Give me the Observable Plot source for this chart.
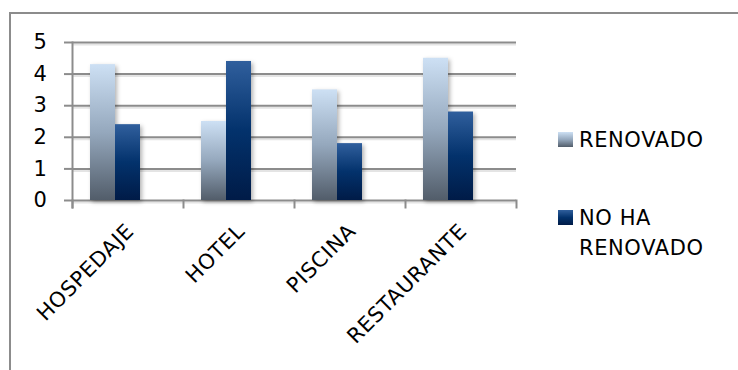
<!DOCTYPE html>
<html><head><meta charset="utf-8">
<script src="https://cdn.jsdelivr.net/npm/d3@7"></script>
<script src="https://cdn.jsdelivr.net/npm/@observablehq/plot@0.6"></script>
<style>
body{margin:0;background:#fff}
#wrap{position:relative;width:738px;height:370px;overflow:hidden;font-family:"DejaVu Sans";background:#fff}
#wrap svg{position:absolute;left:0;top:0}
.border{position:absolute;left:9px;top:12px;width:900px;height:600px;border-left:2px solid #8c8c8c;border-top:2px solid #8c8c8c}
.sw{position:absolute;width:15px;height:15px}
.lt{position:absolute;font-size:21px;line-height:30px;letter-spacing:0.6px;color:#000;white-space:nowrap}
</style></head>
<body><div id="wrap"><div class="border"></div></div>
<script>
const categories = ["HOSPEDAJE", "HOTEL", "PISCINA", "RESTAURANTE"];
const series = ["RENOVADO", "NO HA RENOVADO"];
const renovado = [4.3, 2.5, 3.5, 4.5];
const noHaRenovado = [2.4, 4.4, 1.8, 2.8];
const yTicks = [0, 1, 2, 3, 4, 5];
const legendLines = [["RENOVADO"], ["NO HA", "RENOVADO"]];

const rows = categories.flatMap((c, i) => [
  {category: c, series: series[0], value: renovado[i]},
  {category: c, series: series[1], value: noHaRenovado[i]}
]);

const gradStops = {
  gR: [["0%", "#cde0f4"], ["50%", "#95a8bd"], ["100%", "#525d6a"]],
  gN: [["0%", "#305f9d"], ["50%", "#03326c"], ["100%", "#001b47"]]
};

function defs() {
  const d = d3.create("svg:defs");
  for (const [id, stops] of Object.entries(gradStops)) {
    const g = d.append("linearGradient").attr("id", id).attr("x1", 0).attr("x2", 0).attr("y1", 0).attr("y2", 1);
    for (const [o, c] of stops) g.append("stop").attr("offset", o).attr("stop-color", c);
  }
  return d.node();
}

const grid = "#8c8c8c";
const chart = Plot.plot({
  width: 738, height: 370,
  marginLeft: 72, marginRight: 222, marginTop: 42, marginBottom: 170,
  style: {fontFamily: "DejaVu Sans", fontSize: "21px", color: "#000", background: "transparent", letterSpacing: "0.6px"},
  fx: {domain: categories, padding: 0, axis: null},
  x: {domain: series, paddingInner: 0, paddingOuter: 1.162, align: 0.3, axis: null},
  y: {domain: [0, 5], axis: null, label: null},
  color: {domain: series, range: ["url(#gR)", "url(#gN)"]},
  marks: [
    defs,
    Plot.ruleY(yTicks, {stroke: "#e4e4e4", strokeWidth: 2, dy: 2}),
    Plot.ruleY(yTicks, {stroke: grid, strokeWidth: 2}),
    Plot.axisY({ticks: yTicks, tickSize: 8, tickPadding: 17, stroke: grid, strokeWidth: 2, fontSize: 21, tickFormat: d => d, label: null}),
    Plot.frame({anchor: "left", facet: "super", insetBottom: -7, stroke: grid, strokeWidth: 2}),
    Plot.frame({anchor: "left", insetTop: 158, insetBottom: -7, stroke: grid, strokeWidth: 2}),
    Plot.frame({anchor: "right", facet: "super", insetTop: 158, insetBottom: -7, stroke: grid, strokeWidth: 2}),
    Plot.barY(rows, {fx: "category", x: "series", y: "value", fill: "series",
      imageFilter: "drop-shadow(2px 2px 2px rgba(0,0,0,0.3))"}),
    Plot.text(categories, {fx: d => d, text: d => d, frameAnchor: "bottom", rotate: -45,
      textAnchor: "end", dx: 7, dy: 32, fontSize: 21, fill: "#000"})
  ]
});
const wrap = document.getElementById("wrap");
wrap.appendChild(chart);

const swatchBg = ["linear-gradient(#cde0f4,#95a8bd,#525d6a)", "linear-gradient(#305f9d,#03326c,#001b47)"];
const swTop = [132, 210];
const txtTop = [125, 203];
legendLines.forEach((lines, i) => {
  const sw = document.createElement("div");
  sw.className = "sw";
  sw.style.left = "558px"; sw.style.top = swTop[i] + "px";
  sw.style.background = swatchBg[i];
  wrap.appendChild(sw);
  const t = document.createElement("div");
  t.className = "lt";
  t.style.left = "579px"; t.style.top = txtTop[i] + "px";
  t.innerHTML = lines.join("<br>");
  wrap.appendChild(t);
});
</script></body></html>
